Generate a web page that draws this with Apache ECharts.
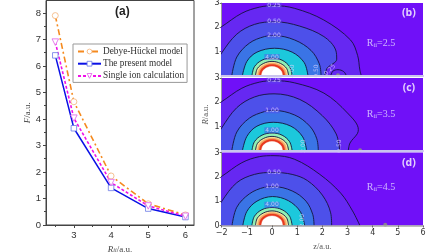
<!DOCTYPE html>
<html><head><meta charset="utf-8">
<style>html,body{margin:0;padding:0;background:#fff}#c{width:448px;height:252px}</style>
<script src="https://cdn.jsdelivr.net/npm/echarts@6/dist/echarts.min.js"></script>
</head><body><div id="c"></div>
<script>
// ---- panel (a) ----
const rii = [2.5, 3, 4, 5, 6];
const debyeHuckel = [7.9, 4.65, 1.85, 0.8, 0.38];
const presentModel = [6.4, 3.65, 1.4, 0.62, 0.3];
const singleIon = [6.9, 4.03, 1.6, 0.72, 0.33];
const seriesNames = ['Debye-Hückel model', 'The present model', 'Single ion calculation'];
const fTicks = [0, 1, 2, 3, 4, 5, 6, 7, 8];
const fMinor = [0.5, 1.5, 2.5, 3.5, 4.5, 5.5, 6.5, 7.5];
const riiTicks = [3, 4, 5, 6];
const riiMinor = [2.5, 3.5, 4.5, 5.5];
// ---- contours [z, R] ----
const b025 = [[-3, 1.4], [-2, 2.03], [-1.2, 2.58], [-0.5, 2.83], [0.08, 2.89], [0.9, 2.78], [2.06, 2.3], [3.12, 1.48], [3.4, 0.85], [3.49, 0.25], [3.55, 0]];
const b050 = [[-2.3, 0.4], [-2, 0.95], [-1.4, 1.72], [-0.7, 2.12], [0.1, 2.23], [1.1, 2.05], [2.06, 1.62], [2.53, 1.07], [2.57, 0.69], [2.19, 0.32], [2.1, 0]];
const bLobe = [[2.33, 0], [2.42, 0.2], [2.62, 0.26], [2.85, 0.18], [2.96, 0]];
const b100 = [[-1.6, 0], [-1.4, 0.78], [-0.9, 1.35], [-0.3, 1.62], [0.1, 1.66], [0.9, 1.48], [1.55, 1.05], [1.88, 0.5], [1.95, 0]];
const b200 = [[-1.18, 0], [-1, 0.6], [-0.6, 0.98], [0.1, 1.14], [0.8, 0.98], [1.28, 0.55], [1.43, 0]];
const c025 = [[-3, 1.4], [-2, 2.03], [-1.2, 2.58], [-0.5, 2.83], [0.08, 2.89], [0.9, 2.8], [2.06, 2.38], [3.0, 1.56], [3.43, 0.88], [3.39, 0.71], [3.1, 0.33], [3.03, 0]];
const c050 = [[-2.3, 0.4], [-2, 0.95], [-1.4, 1.78], [-0.7, 2.22], [0.08, 2.35], [1.1, 2.12], [2.0, 1.45], [2.55, 0.7], [2.69, 0]];
const c100 = [[-1.6, 0], [-1.4, 0.78], [-0.9, 1.35], [-0.3, 1.62], [0.05, 1.67], [0.9, 1.48], [1.5, 1.02], [1.78, 0.5], [1.84, 0]];
const c200 = [[-1.18, 0], [-1, 0.6], [-0.6, 1.02], [0.05, 1.18], [0.75, 1.02], [1.22, 0.58], [1.38, 0]];
const d025 = [[-3, 1.4], [-2, 2.02], [-1.2, 2.58], [-0.5, 2.83], [0.08, 2.87], [0.9, 2.72], [1.9, 2.1], [2.73, 1.33], [3.2, 0.6], [3.49, 0]];
const d050 = [[-2.3, 0.4], [-2, 0.99], [-1.4, 1.76], [-0.7, 2.1], [0.05, 2.18], [0.8, 2.1], [1.4, 1.85], [2.0, 1.25], [2.33, 0.52], [2.37, 0]];
const d100 = [[-1.59, 0], [-1.4, 0.75], [-0.9, 1.3], [-0.3, 1.57], [0.05, 1.6], [0.8, 1.42], [1.35, 1.0], [1.62, 0.45], [1.67, 0]];
const d200 = [[-1.16, 0], [-1, 0.58], [-0.6, 1.0], [0.02, 1.19], [0.65, 1.02], [1.12, 0.58], [1.3, 0]];
const ring1 = [[-0.8, 0], [-0.7, 0.38], [-0.4, 0.65], [0, 0.74], [0.4, 0.65], [0.7, 0.38], [0.8, 0]];
const ring2 = [[-0.66, 0], [-0.58, 0.31], [-0.33, 0.52], [0, 0.6], [0.33, 0.52], [0.58, 0.31], [0.66, 0]];
const ring3 = [[-0.58, 0], [-0.51, 0.27], [-0.29, 0.46], [0, 0.53], [0.29, 0.46], [0.51, 0.27], [0.58, 0]];
const ring4 = [[-0.51, 0], [-0.45, 0.24], [-0.26, 0.41], [0, 0.47], [0.26, 0.41], [0.45, 0.24], [0.51, 0]];
const ring5 = [[-0.42, 0], [-0.37, 0.2], [-0.21, 0.34], [0, 0.39], [0.21, 0.34], [0.37, 0.2], [0.42, 0]];
const labelsB = [[0.08, 2.89, '0.25', 0], [0.08, 2.23, '0.50', 0], [0.08, 1.66, '2.00', 0], [0, 0.78, '4.00', 0], [0.8, 0.2, '4.00', 90], [1.75, 0.2, '0.50', 90], [2.3, 0.25, '0.25', 45]];
const labelsC = [[0.08, 2.89, '0.25', 0], [0, 1.67, '1.00', 0], [0, 0.85, '4.00', 0], [1.25, 0.2, '2.00', 90], [2.69, 0.2, '0.50', 90]];
const labelsD = [[0.08, 2.18, '0.50', 0], [0, 1.6, '1.00', 0], [0, 0.85, '4.00', 0], [1.2, 0.2, '2.00', 90]];
const ionZ = [2.62, 3.5, 4.5];
const panelTags = ['(b)', '(c)', '(d)'];
const riiTexts = ['2.5', '3.5', '4.5'];
const rTicksUpper = [1, 2, 3];
const rTicksLower = [0, 1, 2, 3];

const bandColors = ['#6628f2', '#4d50ea', '#3a74e6', '#1cc8dc', '#90f0b4', '#f6e59a', '#f5a564', '#e8391e', '#ffffff'];
const tickColor = '#333';

function band(xi, pts, color, lineOn) {
  return {
    type: 'line', xAxisIndex: xi, yAxisIndex: xi, data: pts, smooth: 0.35, symbol: 'none',
    clip: true, silent: true, z: 2, animation: false,
    lineStyle: { color: lineOn ? '#14143c' : color, width: lineOn ? 0.9 : 0.5 },
    areaStyle: { color: color, opacity: 1, origin: 'start' }
  };
}
function labelsSeries(xi, rows) {
  return {
    type: 'scatter', xAxisIndex: xi, yAxisIndex: xi, symbolSize: 0, z: 5, silent: true, animation: false,
    data: rows.map(r => ({
      value: [r[0], r[1]],
      label: {
        show: true, position: 'inside', formatter: r[2], rotate: r[3], fontSize: 6,
        fontFamily: 'DejaVu Sans', color: '#ddd6ff', backgroundColor: r[3] ? 'transparent' : 'rgba(90,70,240,0.55)', padding: [0, 1]
      }
    }))
  };
}
function textSeries(xi, i, ry) {
  return {
    type: 'scatter', xAxisIndex: xi, yAxisIndex: xi, symbolSize: 0, z: 5, silent: true, animation: false,
    data: [
      { value: [4.33, ry], label: { show: true, position: 'inside', formatter: '{a|R}{s|ii}{a|=' + riiTexts[i] + '}',
        rich: { a: { fontFamily: 'Liberation Serif', fontSize: 10, color: '#e4dcff' }, s: { fontFamily: 'Liberation Serif', fontSize: 6.5, color: '#e4dcff', verticalAlign: 'bottom', padding: [4, 0, 0, 0] } } } },
      { value: [5.44, 2.58], label: { show: true, position: 'inside', formatter: panelTags[i], fontFamily: 'Open Sans', fontWeight: 'bold', fontSize: 10.5, color: '#fff' } }
    ]
  };
}
function ionSeries(xi, i) {
  return { type: 'scatter', xAxisIndex: xi, yAxisIndex: xi, symbolSize: 4, z: 4, silent: true, animation: false,
    itemStyle: { color: '#8f9a78' }, data: [[ionZ[i], 0.03]] };
}
function panel(xi, i, cs, lobe, labels, ry) {
  const list = [
    band(xi, cs[0], bandColors[0], true),
    band(xi, cs[1], bandColors[1], true),
    band(xi, cs[2], bandColors[2], true),
    band(xi, cs[3], bandColors[3], true)
  ];
  if (lobe) list.push(band(xi, lobe, bandColors[0], true));
  list.push(band(xi, ring1, bandColors[4], true), band(xi, ring2, bandColors[5], true), band(xi, ring3, bandColors[6], false),
    band(xi, ring4, bandColors[7], false), band(xi, ring5, bandColors[8], false));
  list.push(labelsSeries(xi, labels), textSeries(xi, i, ry), ionSeries(xi, i));
  return list;
}
const sx = { fontSize: 9.5, color: tickColor, fontFamily: 'Liberation Sans', margin: 5 };
const pz = (n) => String(n).replace('-', '−');
function rightX(gi, show) {
  return { type: 'value', gridIndex: gi, min: -2, max: 6, interval: 1, splitLine: { show: false }, z: 10,
    axisLine: { onZero: false, lineStyle: { color: show ? '#a8a8a8' : '#c9c4ee', width: show ? 1.5 : 2 } },
    axisTick: { show: show, length: 2, lineStyle: { color: '#666' } },
    axisLabel: { show: show, fontSize: 8, color: tickColor, fontFamily: 'DejaVu Sans', margin: 3, formatter: pz, hideOverlap: false },
    name: show ? 'z/a.u.' : '', nameLocation: 'middle', nameGap: 17,
    nameTextStyle: { fontFamily: 'Liberation Serif', fontSize: 8.5, color: '#555' } };
}
function rightY(gi, ticks, name) {
  return { type: 'value', gridIndex: gi, min: 0, max: 3, interval: 1, splitLine: { show: false },
    axisLine: { onZero: false, lineStyle: { color: '#999' } },
    axisTick: { show: true, length: 2, customValues: ticks, lineStyle: { color: '#666' } },
    axisLabel: { fontSize: 8, color: tickColor, fontFamily: 'DejaVu Sans', margin: 2, customValues: ticks },
    name: name, nameLocation: 'middle', nameGap: 9, nameRotate: 90,
    nameTextStyle: { fontFamily: 'Liberation Serif', fontSize: 8.5, color: '#555',
      rich: { i: { fontFamily: 'Liberation Serif', fontStyle: 'italic', fontSize: 8.5, color: '#555' }, n: { fontFamily: 'Liberation Serif', fontSize: 8.5, color: '#555' } } } };
}
const purple = '#7010f8';
const marker = (c) => ({ color: '#fff', borderColor: c, borderWidth: 0.8 });
const styleDH = marker('#f3b27a'), stylePM = marker('#6a78e6'), styleSI = marker('#e060e8');
const downTri = 'path://M0,0 L10,0 L5,9 Z';
const option = {
  animation: false,
  backgroundColor: '#fff',
  title: { text: '(a)', left: 115, top: 6, padding: 0, textStyle: { fontFamily: 'Liberation Sans', fontWeight: 'bold', fontSize: 12, color: '#222' } },
  legend: {
    left: 73, top: 44, orient: 'vertical', padding: [3, 3, 2, 4], itemGap: 3.2, itemWidth: 23, itemHeight: 6,
    borderColor: '#999', borderWidth: 1, backgroundColor: '#fff',
    data: [
      { name: seriesNames[0], itemStyle: styleDH },
      { name: seriesNames[1], itemStyle: stylePM },
      { name: seriesNames[2], itemStyle: styleSI }
    ],
    textStyle: { fontFamily: 'Liberation Serif', fontSize: 9.3, color: '#333', padding: [0, 0, 0, -3] }
  },
  grid: [
    { left: 46, width: 148, top: 0.5, height: 224.5, show: true, borderColor: '#444', borderWidth: 1, backgroundColor: '#fff', outerBoundsMode: 'none' },
    { left: 221.7, width: 201.3, top: 3, height: 73, show: true, backgroundColor: purple, borderWidth: 0, outerBoundsMode: 'none' },
    { left: 221.7, width: 201.3, top: 78, height: 73, show: true, backgroundColor: purple, borderWidth: 0, outerBoundsMode: 'none' },
    { left: 221.7, width: 201.3, top: 152.5, height: 73, show: true, backgroundColor: purple, borderWidth: 0, outerBoundsMode: 'none' }
  ],
  xAxis: [
    { type: 'value', gridIndex: 0, position: 'bottom', min: 2.25, max: 6.23, splitLine: { show: false },
      axisLine: { lineStyle: { color: '#444' } }, axisTick: { length: 3, customValues: riiTicks, lineStyle: { color: '#444' } },
      axisLabel: { ...sx, customValues: riiTicks },
      name: '{i|R}{s|ii}{n|/a.u.}', nameLocation: 'middle', nameGap: 15,
      nameTextStyle: { rich: { i: { fontFamily: 'Liberation Serif', fontStyle: 'italic', fontSize: 9, color: '#444' }, s: { fontFamily: 'Liberation Serif', fontStyle: 'italic', fontSize: 6, color: '#444', verticalAlign: 'bottom', padding: [3, 0, 0, 0] }, n: { fontFamily: 'Liberation Serif', fontSize: 9, color: '#444' } } } },
    rightX(1, false), rightX(2, false), rightX(3, true),
    { type: 'value', gridIndex: 0, position: 'bottom', min: 2.25, max: 6.23, splitLine: { show: false }, axisLine: { show: false },
      axisTick: { length: 2, customValues: riiMinor, lineStyle: { color: '#444' } }, axisLabel: { show: false } }
  ],
  yAxis: [
    { type: 'value', gridIndex: 0, position: 'left', min: 0, max: 8.47, splitLine: { show: false },
      axisLine: { lineStyle: { color: '#444' } }, axisTick: { length: 3, customValues: fTicks, lineStyle: { color: '#444' } },
      axisLabel: { ...sx, customValues: fTicks },
      name: '{i|F}{n|/a.u.}', nameLocation: 'middle', nameGap: 14, nameTextStyle: { rich: { i: { fontFamily: 'Liberation Serif', fontStyle: 'italic', fontSize: 9, color: '#444' }, n: { fontFamily: 'Liberation Serif', fontSize: 9, color: '#444' } } } },
    rightY(1, rTicksUpper, ''), rightY(2, rTicksUpper, '{i|R}{n|/a.u.}'), rightY(3, rTicksLower, ''),
    { type: 'value', gridIndex: 0, position: 'left', min: 0, max: 8.47, splitLine: { show: false }, axisLine: { show: false },
      axisTick: { length: 2, customValues: fMinor, lineStyle: { color: '#444' } }, axisLabel: { show: false } }
  ],
  series: [
    { name: seriesNames[0], type: 'line', xAxisIndex: 0, yAxisIndex: 0, data: rii.map((x, i) => [x, debyeHuckel[i]]), z: 3,
      symbol: 'circle', symbolSize: 6, lineStyle: { color: '#f58a1f', width: 1.6, type: [6, 3, 2, 3] }, itemStyle: styleDH },
    { name: seriesNames[1], type: 'line', xAxisIndex: 0, yAxisIndex: 0, data: rii.map((x, i) => [x, presentModel[i]]), z: 3,
      symbol: 'rect', symbolSize: 5.5, lineStyle: { color: '#0a10e6', width: 1.5 }, itemStyle: stylePM },
    { name: seriesNames[2], type: 'line', xAxisIndex: 0, yAxisIndex: 0, data: rii.map((x, i) => [x, singleIon[i]]), z: 3,
      symbol: downTri, symbolSize: 6.5, lineStyle: { color: '#f010e8', width: 1.6, type: [3, 2] }, itemStyle: styleSI },
    ...panel(1, 0, [b025, b050, b100, b200], bLobe, labelsB, 1.34),
    ...panel(2, 1, [c025, c050, c100, c200], null, labelsC, 1.49),
    ...panel(3, 2, [d025, d050, d100, d200], null, labelsD, 1.56)
  ]
};
echarts.init(document.getElementById('c'), null, { renderer: 'canvas' }).setOption(option);
</script></body></html>
